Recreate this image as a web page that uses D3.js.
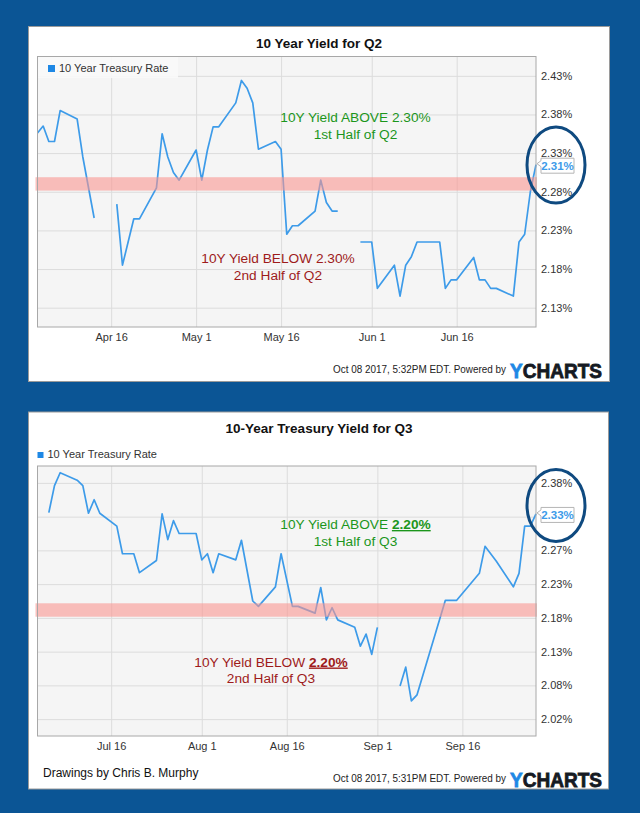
<!DOCTYPE html>
<html><head><meta charset="utf-8">
<script src="https://cdn.jsdelivr.net/npm/d3@7"></script>
<style>
html,body{margin:0;padding:0;background:#0b5595;}
svg{display:block;}
text{font-family:"Liberation Sans",Arial,Helvetica,sans-serif;}
</style></head><body>
<svg id="c" width="640" height="813"></svg>
<script>
// ---------- DATA ----------
const seriesName = "10 Year Treasury Rate";

const q2Dates = ["2017-04-03","2017-04-04","2017-04-05","2017-04-06","2017-04-07","2017-04-10","2017-04-11","2017-04-13","2017-04-14",
  "2017-04-17","2017-04-18","2017-04-20","2017-04-21","2017-04-24","2017-04-25","2017-04-26","2017-04-27","2017-04-28",
  "2017-05-01","2017-05-02","2017-05-03","2017-05-04","2017-05-05","2017-05-08","2017-05-09","2017-05-10","2017-05-11","2017-05-12",
  "2017-05-15","2017-05-16","2017-05-17","2017-05-18","2017-05-19","2017-05-22","2017-05-23","2017-05-24","2017-05-25","2017-05-26","2017-05-29",
  "2017-05-30","2017-06-01","2017-06-02","2017-06-05","2017-06-06","2017-06-07","2017-06-08","2017-06-09","2017-06-13","2017-06-14",
  "2017-06-15","2017-06-16","2017-06-19","2017-06-20","2017-06-21","2017-06-22","2017-06-23","2017-06-26","2017-06-27","2017-06-28",
  "2017-06-29","2017-06-30"];
const q2Values = [2.351,2.360,2.340,2.340,2.380,2.369,2.320,2.241,null,
  2.259,2.180,2.240,2.240,2.280,2.350,2.320,2.300,2.290,
  2.329,2.290,2.329,2.359,2.359,2.390,2.419,2.409,2.390,2.330,
  2.340,2.330,2.220,2.231,2.231,2.250,2.290,2.261,2.250,2.250,null,
  2.210,2.210,2.150,2.180,2.140,2.180,2.191,2.210,2.210,2.150,
  2.161,2.161,2.190,2.161,2.161,2.150,2.150,2.140,2.210,2.220,
  2.275,2.310];
const q2YTicks = [2.125,2.175,2.225,2.275,2.325,2.375,2.425];
const q2YLabels = ["2.13%","2.18%","2.23%","2.28%","2.33%","2.38%","2.43%"];
const q2XTicks = ["2017-04-16","2017-05-01","2017-05-16","2017-06-01","2017-06-16"];
const q2XLabels = ["Apr 16","May 1","May 16","Jun 1","Jun 16"];
const q2Last = "2.31%";

const q3Dates = ["2017-07-05","2017-07-06","2017-07-07","2017-07-10","2017-07-11","2017-07-12","2017-07-13","2017-07-14",
  "2017-07-17","2017-07-18","2017-07-20","2017-07-21","2017-07-24","2017-07-25","2017-07-26","2017-07-27","2017-07-28",
  "2017-07-31","2017-08-01","2017-08-02","2017-08-03","2017-08-04","2017-08-07","2017-08-08","2017-08-10","2017-08-11",
  "2017-08-14","2017-08-15","2017-08-17","2017-08-18","2017-08-21","2017-08-22","2017-08-23","2017-08-24","2017-08-25",
  "2017-08-28","2017-08-29","2017-08-30","2017-08-31","2017-09-01","2017-09-04",
  "2017-09-05","2017-09-06","2017-09-07","2017-09-08","2017-09-13","2017-09-15","2017-09-19","2017-09-20","2017-09-22",
  "2017-09-25","2017-09-26","2017-09-27","2017-09-28","2017-09-29"];
const q3Values = [2.331,2.371,2.390,2.379,2.371,2.330,2.350,2.330,
  2.311,2.270,2.270,2.242,2.260,2.329,2.291,2.319,2.300,
  2.300,2.261,2.270,2.242,2.270,2.261,2.290,2.200,2.192,
  2.221,2.270,2.192,2.192,2.182,2.220,2.172,2.190,2.172,
  2.161,2.133,2.151,2.121,2.161,null,
  2.074,2.102,2.052,2.061,2.201,2.201,2.241,2.281,2.259,
  2.221,2.241,2.311,2.311,2.329];
const q3YTicks = [2.025,2.075,2.125,2.175,2.225,2.275,2.325,2.375];
const q3YLabels = ["2.02%","2.08%","2.13%","2.18%","2.23%","2.27%","2.33%","2.38%"];
const q3XTicks = ["2017-07-16","2017-08-01","2017-08-16","2017-09-01","2017-09-16"];
const q3XLabels = ["Jul 16","Aug 1","Aug 16","Sep 1","Sep 16"];
const q3Last = "2.33%";

// ---------- DRAW ----------
const parse = d3.timeParse("%Y-%m-%d");
const svg = d3.select("#c");
const LINE = "#3d9be9", GREEN = "#1c961c", RED = "#9e1b1b", NAVY = "#0f4a80";

function drawChart(o) {
  const g = svg.append("g");
  const P = o.plot;
  g.append("rect").attr("x", o.panel[0]).attr("y", o.panel[1]).attr("width", o.panel[2]).attr("height", o.panel[3])
    .attr("fill", "#fff").attr("stroke", "#9a9a9a");

  const data = o.dates.map((d, i) => ({ d: parse(d), v: o.values[i] }));
  const x = d3.scaleTime().domain([parse(o.xDomain[0]), parse(o.xDomain[1])]).range([P.l, P.r]);
  const y = d3.scaleLinear().domain(o.yDomain).range([P.b, P.t]);

  g.append("rect").attr("x", P.l).attr("y", P.t).attr("width", P.r - P.l).attr("height", P.b - P.t).attr("fill", "#f5f5f5");

  // grid
  g.append("g").attr("transform", `translate(0,${P.b})`)
    .call(d3.axisBottom(x).tickValues(o.xTicks.map(parse)).tickSize(-(P.b - P.t)).tickFormat(""))
    .call(s => { s.select(".domain").remove(); s.selectAll("line").attr("stroke", "#dcdcdc"); });
  g.append("g").attr("transform", `translate(${P.l},0)`)
    .call(d3.axisLeft(y).tickValues(o.yTicks).tickSize(-(P.r - P.l)).tickFormat(""))
    .call(s => { s.select(".domain").remove(); s.selectAll("line").attr("stroke", "#dcdcdc"); });

  // legend
  if (o.legendInside) {
    g.append("rect").attr("x", P.l + 0.5).attr("y", P.t + 0.5).attr("width", 140).attr("height", 21)
      .attr("fill", "#fafafa").attr("opacity", 0.9);
  }
  g.append("rect").attr("x", o.legend[0]).attr("y", o.legend[1]).attr("width", o.legend[2]).attr("height", o.legend[2]).attr("fill", "#1e88e5");
  g.append("text").attr("x", o.legend[0] + o.legend[2] + 4).attr("y", o.legend[1] + o.legend[2])
    .attr("font-size", 11).attr("fill", "#333").text(seriesName);

  // line
  const line = d3.line().defined(d => d.v != null).x(d => x(d.d)).y(d => y(d.v));
  g.append("path").datum(data).attr("d", line).attr("fill", "none").attr("stroke", LINE)
    .attr("stroke-width", 1.7).attr("stroke-linejoin", "round");

  // band
  g.append("rect").attr("x", P.l - 2).attr("y", y(o.band[1])).attr("width", P.r - P.l + 3)
    .attr("height", y(o.band[0]) - y(o.band[1])).attr("fill", "rgba(250,150,145,0.6)");

  // border
  g.append("rect").attr("x", P.l).attr("y", P.t).attr("width", P.r - P.l).attr("height", P.b - P.t)
    .attr("fill", "none").attr("stroke", "#a8a8a8");

  // axes labels
  const ya = g.append("g").attr("transform", `translate(${P.r},0)`)
    .call(d3.axisRight(y).tickValues(o.yTicks).tickSize(0).tickPadding(5).tickFormat((d, i) => o.yLabels[i]));
  ya.select(".domain").remove();
  ya.selectAll("text").attr("font-size", 11).attr("fill", "#333").attr("font-family", "Liberation Sans, Arial, sans-serif");
  const xa = g.append("g").attr("transform", `translate(0,${P.b})`)
    .call(d3.axisBottom(x).tickValues(o.xTicks.map(parse)).tickSize(0).tickPadding(6).tickFormat((d, i) => o.xLabels[i]));
  xa.select(".domain").remove();
  xa.selectAll("text").attr("font-size", 11).attr("fill", "#333").attr("font-family", "Liberation Sans, Arial, sans-serif");

  // title
  g.append("text").attr("x", 319).attr("y", o.titleY).attr("text-anchor", "middle").attr("font-size", 13.5)
    .attr("font-weight", "bold").attr("fill", "#111").text(o.title);

  // annotations
  o.notes.forEach(n => {
    const t = g.append("text").attr("x", n.x).attr("y", n.y).attr("text-anchor", "middle")
      .attr("font-size", 13.7).attr("fill", n.color);
    t.append("tspan").text(n.text);
    if (n.bold) t.append("tspan").attr("font-weight", "bold").attr("text-decoration", "underline").text(n.bold);
  });

  // last value label
  const last = data[data.length - 1];
  const ly = y(last.v) + 1;
  g.append("path").attr("d", `M${P.r + 1},${ly - 2} L${P.r + 5},${ly - 5} V${ly - 7.5} H${P.r + 38} V${ly + 7.5} H${P.r + 5} V${ly + 1} Z`)
    .attr("fill", "#fff").attr("stroke", "#b5b5b5");
  g.append("text").attr("x", P.r + 21.5).attr("y", ly + 4.5).attr("text-anchor", "middle").attr("font-size", 11.5)
    .attr("font-weight", "bold").attr("fill", "#3d9be9").text(o.lastLabel);

  // circle
  g.append("ellipse").attr("cx", o.ell[0]).attr("cy", o.ell[1]).attr("rx", o.ell[2]).attr("ry", o.ell[3])
    .attr("fill", "none").attr("stroke", NAVY).attr("stroke-width", 3);

  // footer
  g.append("text").attr("x", 333).attr("y", o.footY).attr("font-size", 10).attr("fill", "#222")
    .attr("textLength", 173).attr("lengthAdjust", "spacingAndGlyphs").text(o.stamp + "  Powered by");
  const yc = g.append("text").attr("x", 510).attr("y", o.footY + 5).attr("font-size", 19.5).attr("font-weight", "bold")
    .attr("textLength", 92).attr("lengthAdjust", "spacingAndGlyphs").attr("stroke-width", 0.8);
  yc.append("tspan").attr("fill", "#1e88e5").attr("stroke", "#1e88e5").text("Y");
  yc.append("tspan").attr("fill", "#151a22").attr("stroke", "#151a22").text("CHARTS");
}

drawChart({
  panel: [28.5, 26.5, 581, 355], plot: { l: 37.5, r: 536, t: 56.5, b: 327 },
  dates: q2Dates, values: q2Values, xDomain: ["2017-04-03", "2017-06-30"], yDomain: [2.10, 2.45],
  yTicks: q2YTicks, yLabels: q2YLabels, xTicks: q2XTicks, xLabels: q2XLabels,
  legendInside: true, legend: [48, 65, 7], band: [2.2765, 2.2938],
  title: "10 Year Yield for Q2", titleY: 48, lastLabel: q2Last, ell: [556, 165, 29, 38],
  notes: [
    { x: 355.5, y: 122, color: GREEN, text: "10Y Yield ABOVE 2.30%" },
    { x: 355.5, y: 139, color: GREEN, text: "1st Half of Q2" },
    { x: 278, y: 263, color: RED, text: "10Y Yield BELOW 2.30%" },
    { x: 278, y: 280, color: RED, text: "2nd Half of Q2" }
  ],
  footY: 373, stamp: "Oct 08 2017, 5:32PM EDT."
});

drawChart({
  panel: [28.5, 412, 580, 377], plot: { l: 37.5, r: 536, t: 466, b: 736 },
  dates: q3Dates, values: q3Values, xDomain: ["2017-07-03", "2017-09-29"], yDomain: [2.0, 2.4],
  yTicks: q3YTicks, yLabels: q3YLabels, xTicks: q3XTicks, xLabels: q3XLabels,
  legendInside: false, legend: [37.5, 452, 6], band: [2.1767, 2.1966],
  title: "10-Year Treasury Yield for Q3", titleY: 433, lastLabel: q3Last, ell: [556, 505.5, 29, 36],
  notes: [
    { x: 355.5, y: 529, color: GREEN, text: "10Y Yield ABOVE ", bold: "2.20%" },
    { x: 355.5, y: 545.5, color: GREEN, text: "1st Half of Q3" },
    { x: 271, y: 666.5, color: RED, text: "10Y Yield BELOW ", bold: "2.20%" },
    { x: 271, y: 683, color: RED, text: "2nd Half of Q3" }
  ],
  footY: 782, stamp: "Oct 08 2017, 5:31PM EDT."
});

svg.append("text").attr("x", 43).attr("y", 777).attr("font-size", 12).attr("fill", "#111").text("Drawings by Chris B. Murphy");
</script></body></html>
